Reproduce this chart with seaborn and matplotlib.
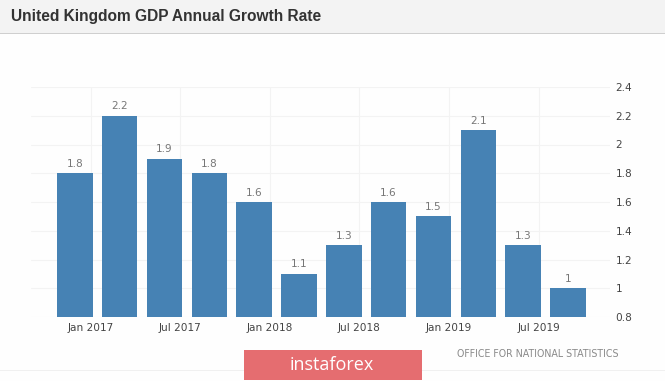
import matplotlib
matplotlib.use("Agg")
import matplotlib.pyplot as plt
from matplotlib.patches import Rectangle
import pandas as pd
import seaborn as sns

quarters = ["2017Q1", "2017Q2", "2017Q3", "2017Q4", "2018Q1", "2018Q2",
            "2018Q3", "2018Q4", "2019Q1", "2019Q2", "2019Q3", "2019Q4"]
growth = [1.8, 2.2, 1.9, 1.8, 1.6, 1.1, 1.3, 1.6, 1.5, 2.1, 1.3, 1.0]
value_labels = ["1.8", "2.2", "1.9", "1.8", "1.6", "1.1", "1.3", "1.6", "1.5", "2.1", "1.3", "1"]
date_labels = ["Jan 2017", "Jul 2017", "Jan 2018", "Jul 2018", "Jan 2019", "Jul 2019"]
y_ticks = [0.8, 1.0, 1.2, 1.4, 1.6, 1.8, 2.0, 2.2, 2.4]
y_labels = ["0.8", "1", "1.2", "1.4", "1.6", "1.8", "2", "2.2", "2.4"]

W, H = 665, 381
sns.set_theme(style="white")
fig = plt.figure(figsize=(W / 100, H / 100), dpi=100, facecolor="#fefefe")

# header band
fig.add_artist(Rectangle((0, 1 - 33 / H), 1, 33 / H, transform=fig.transFigure, fc="#f3f3f3", ec="none"))
fig.add_artist(Rectangle((0, 1 - 34 / H), 1, 1.3 / H, transform=fig.transFigure, fc="#cfcfcf", ec="none"))
fig.text(11 / W, 1 - 16 / H, "United Kingdom GDP Annual Growth Rate", family="Liberation Sans",
         fontweight="bold", fontsize=11.2, color="#333333", va="center", ha="left")

ax = fig.add_axes([31 / W, 1 - 317 / H, (610 - 31) / W, (317 - 87) / H])
ax.set_facecolor("none")
df = pd.DataFrame({"quarter": quarters, "growth": growth})
sns.barplot(data=df, x="quarter", y="growth", color="#4682b4", saturation=1, width=0.79,
            linewidth=0, ax=ax, zorder=3)

ax.set_ylim(0.8, 2.4)
ax.set_xlim(-0.98, 11.94)
ax.set_xlabel("")
ax.set_ylabel("")
ax.set_yticks(y_ticks)
ax.set_yticklabels(y_labels)
ax.yaxis.tick_right()
ax.set_xticks([0.35 + 2 * i for i in range(len(date_labels))])
ax.set_xticklabels(date_labels)
ax.tick_params(axis="both", length=0, labelsize=7.6, labelcolor="#444444")
ax.tick_params(axis="x", pad=4)
ax.tick_params(axis="y", pad=4)
for lab in ax.get_xticklabels() + ax.get_yticklabels():
    lab.set_family("DejaVu Sans")
ax.grid(True, color="#f3f3f3", linewidth=0.8)
ax.set_axisbelow(True)
for s in ax.spines.values():
    s.set_visible(False)

for i, (v, t) in enumerate(zip(growth, value_labels)):
    ax.annotate(t, (i, v), xytext=(0, 3.2), textcoords="offset points", ha="center", va="bottom",
                fontsize=7.6, color="#777777", family="DejaVu Sans")

# source and watermark
fig.text(537.5 / W, 1 - 354 / H, "OFFICE FOR NATIONAL STATISTICS", family="DejaVu Sans",
         fontsize=6.85, color="#8a8a8a", ha="center", va="center")
fig.add_artist(Rectangle((0, 1 - 371 / H), 1, 1 / H, transform=fig.transFigure, fc="#f0f0f0", ec="none"))
fig.add_artist(Rectangle((244 / W, 1 - 380 / H), 178 / W, 30 / H, transform=fig.transFigure, fc="#e56d70", ec="none"))
fig.text(332 / W, 1 - 365 / H, "instaforex", family="Open Sans", fontsize=13, color="white",
         ha="center", va="center")

fig.savefig("out.png", dpi=100, facecolor=fig.get_facecolor())
